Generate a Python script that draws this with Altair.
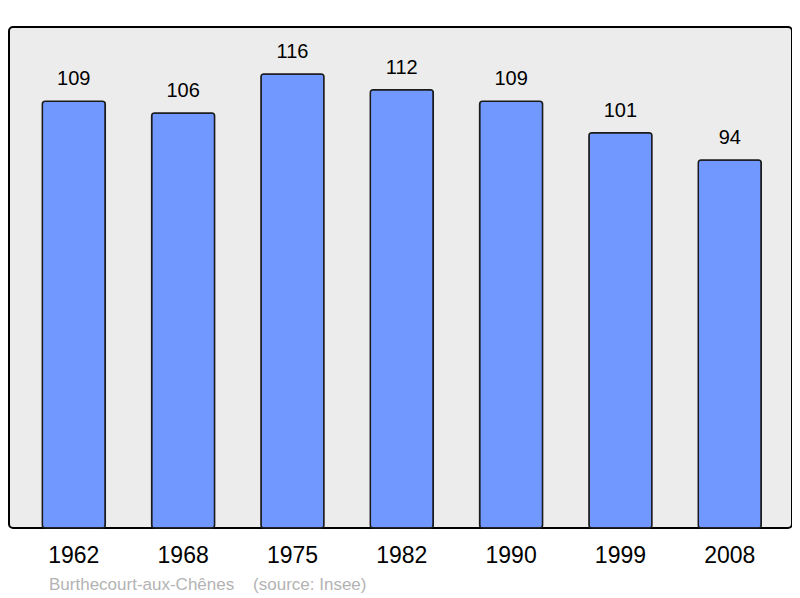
import altair as alt
import pandas as pd

years = ["1962", "1968", "1975", "1982", "1990", "1999", "2008"]
population = [109, 106, 116, 112, 109, 101, 94]

df = pd.DataFrame({"year": years, "pop": population})

x = alt.X("year:N", sort=years,
          scale=alt.Scale(paddingInner=0.424, paddingOuter=0.293, align=0.52),
          axis=alt.Axis(title=None, labelAngle=0, labelFontSize=23, labelFont="Liberation Sans",
                        labelColor="#000000", labelPadding=16, ticks=False, domain=False))
y = alt.Y("pop:Q", scale=alt.Scale(domain=[0, 128], nice=False), axis=None)

bars = alt.Chart(df).mark_bar(color="#7098ff", stroke="#1a1a1a", strokeWidth=1.5,
                              cornerRadius=3).encode(x=x, y=y)
labels = alt.Chart(df).mark_text(baseline="bottom", dy=-12, fontSize=20,
                                 font="Liberation Sans", color="#000000").encode(
    x=x, y=y, text="pop:Q")

chart = (bars + labels).properties(
    width=783, height=501,
    autosize=alt.AutoSizeParams(type="none"),
    padding={"left": 1, "top": 19, "right": 0, "bottom": 70},
    title=alt.TitleParams(
        text="Burthecourt-aux-Chênes\u00a0\u00a0\u00a0\u00a0(source: Insee)",
        orient="bottom", anchor="start", dx=40, offset=10,
        fontSize=17, font="Liberation Sans", fontWeight="normal", color="#b3b3b3"),
).configure_view(fill="#ececec", stroke="#000000", strokeWidth=2, cornerRadius=4)

chart.save("out.html", embed_options={"renderer": "svg", "actions": False})
